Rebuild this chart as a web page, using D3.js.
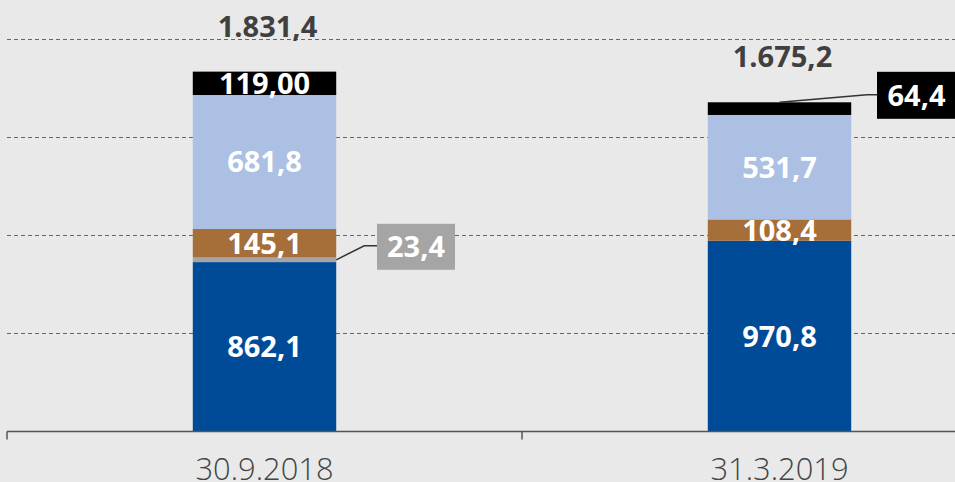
<!DOCTYPE html>
<html><head><meta charset="utf-8">
<script src="https://cdn.jsdelivr.net/npm/d3@7"></script>
<style>html,body{margin:0;padding:0;background:#e9e9e9;overflow:hidden}svg{display:block}</style>
</head><body>
<svg id="c" width="955" height="482"></svg>
<script>
const categories = ["30.9.2018", "31.3.2019"];
const seriesNames = ["blue", "gray", "brown", "lightblue", "black"];
const blueVals = [862.1, 970.8];
const grayVals = [23.4, 0];
const brownVals = [145.1, 108.4];
const lightBlueVals = [681.8, 531.7];
const blackVals = [119.0, 64.4];
const segLabels = [["862,1","23,4","145,1","681,8","119,00"],["970,8","","108,4","531,7","64,4"]];
const totalLabels = ["1.831,4", "1.675,2"];
const gridTicks = [500, 1000, 1500, 2000];

const colors = {blue:"#004b98", gray:"#a5a5a5", brown:"#a66e38", lightblue:"#abc0e2", black:"#000000"};
const svg = d3.select("#c");
const W = 955, H = 482;
const y = d3.scaleLinear().domain([0, 2000]).range([431.5, 38.5]);
const x = d3.scaleBand().domain(categories).range([7, 1037]).paddingInner(0.7215).paddingOuter(0.7215/2);

svg.append("rect").attr("width", W).attr("height", H).attr("fill", "#e9e9e9");

// gridlines
svg.append("g").selectAll("line").data(gridTicks).join("line")
  .attr("x1", 7).attr("x2", W).attr("y1", d => Math.round(y(d)) + 0.5).attr("y2", d => Math.round(y(d)) + 0.5)
  .attr("stroke", "#666").attr("stroke-width", 1).attr("stroke-dasharray", "4,3");

// stacked data
const rows = categories.map((c, i) => ({cat: c, blue: blueVals[i], gray: grayVals[i], brown: brownVals[i], lightblue: lightBlueVals[i], black: blackVals[i]}));
const stack = d3.stack().keys(seriesNames)(rows);
const font = "'Open Sans', sans-serif";

stack.forEach((layer, li) => {
  svg.append("g").selectAll("rect").data(layer).join("rect")
    .attr("x", d => x(d.data.cat)).attr("width", x.bandwidth())
    .attr("y", d => y(d[1])).attr("height", d => Math.max(0, y(d[0]) - y(d[1])))
    .attr("fill", colors[layer.key]);
});

// in-bar labels
stack.forEach((layer, li) => {
  layer.forEach((d, ci) => {
    const lab = segLabels[ci][li];
    const inside = !((ci === 0 && layer.key === "gray") || (ci === 1 && layer.key === "black"));
    if (!lab || !inside) return;
    svg.append("text").attr("x", x(d.data.cat) + x.bandwidth()/2).attr("y", (y(d[0]) + y(d[1]))/2)
      .attr("dy", "0.36em").attr("text-anchor", "middle").attr("fill", "#fff")
      .style("font-family", font).style("font-weight", 700).style("font-size", "29px").text(lab);
  });
});

// totals
rows.forEach((r, i) => {
  const tot = seriesNames.reduce((s, k) => s + r[k], 0);
  svg.append("text").attr("x", x(r.cat) + x.bandwidth()/2 + 3).attr("y", y(tot) - 35)
    .attr("text-anchor", "middle").attr("fill", "#404040")
    .style("font-family", font).style("font-weight", 700).style("font-size", "29px").text(totalLabels[i]);
});

// callout 1: gray segment of first bar
{
  const seg = stack[1][0];
  const ym = (y(seg[0]) + y(seg[1])) / 2;
  const bx = x(categories[0]) + x.bandwidth();
  const boxX = 377, boxW = 78, boxY = ym - 36, boxH = 46;
  svg.append("path").attr("d", `M${bx},${ym} L${bx+28},${ym-14} L${boxX},${ym-14}`)
    .attr("fill", "none").attr("stroke", "#333").attr("stroke-width", 1.5);
  svg.append("rect").attr("x", boxX).attr("y", boxY).attr("width", boxW).attr("height", boxH).attr("fill", colors.gray);
  svg.append("text").attr("x", boxX + boxW/2).attr("y", boxY + boxH/2).attr("dy", "0.36em")
    .attr("text-anchor", "middle").attr("fill", "#fff")
    .style("font-family", font).style("font-weight", 700).style("font-size", "29px").text(segLabels[0][1]);
}
// callout 2: black segment of second bar
{
  const seg = stack[4][1];
  const top = y(seg[1]);
  const cx = x(categories[1]) + x.bandwidth()/2;
  const boxX = 877, boxW = 85, boxY = top - 30.5, boxH = 47;
  svg.append("path").attr("d", `M${cx},${top} L${boxX-10},${top-7.5} L${boxX},${top-7.5}`)
    .attr("fill", "none").attr("stroke", "#333").attr("stroke-width", 1.5);
  svg.append("rect").attr("x", boxX).attr("y", boxY).attr("width", boxW).attr("height", boxH).attr("fill", "#000");
  svg.append("text").attr("x", boxX + 39.5).attr("y", boxY + boxH/2).attr("dy", "0.36em")
    .attr("text-anchor", "middle").attr("fill", "#fff")
    .style("font-family", font).style("font-weight", 700).style("font-size", "29px").text(segLabels[1][4]);
}

// x axis
const ax = svg.append("g").attr("transform", `translate(0,${y(0)})`);
ax.append("line").attr("x1", 7).attr("x2", W).attr("y1", 0).attr("y2", 0).attr("stroke", "#555").attr("stroke-width", 1.5);
const tickPos = [7, 7 + x.step()];
ax.selectAll("line.t").data(tickPos).join("line").attr("class","t")
  .attr("x1", d => d).attr("x2", d => d).attr("y1", 0).attr("y2", 8).attr("stroke", "#555").attr("stroke-width", 1.5);
ax.selectAll("text").data(categories).join("text")
  .attr("x", d => x(d) + x.bandwidth()/2).attr("y", 48.5).attr("text-anchor", "middle").attr("fill", "#444")
  .style("font-family", font).style("font-weight", 300).style("font-size", "31px")
  .attr("textLength", 138).attr("lengthAdjust", "spacingAndGlyphs").text(d => d);
</script>
</body></html>
